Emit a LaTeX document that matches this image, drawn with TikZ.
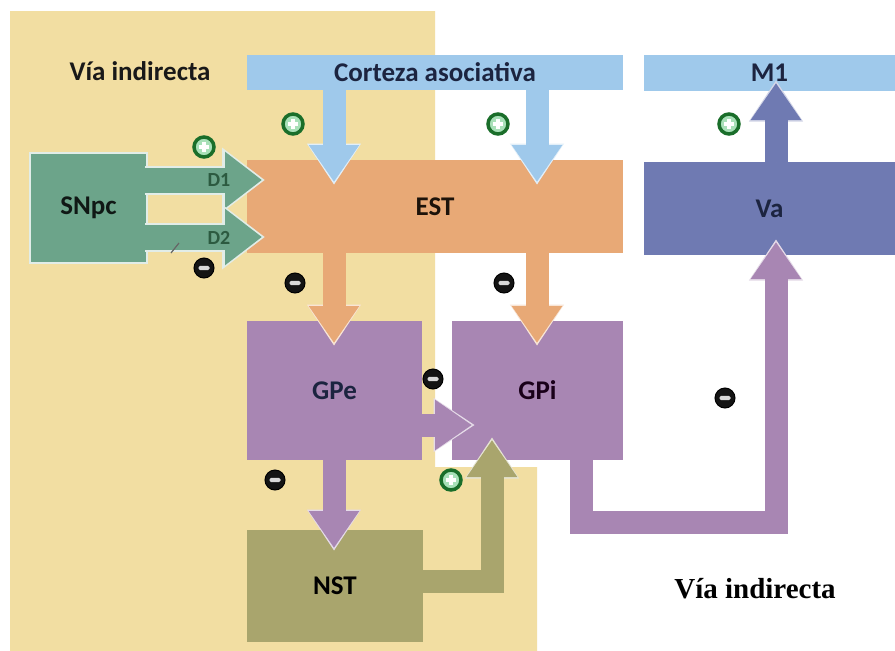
\documentclass[tikz,border=0pt]{standalone}
\usepackage{fontspec}
\setmainfont{Carlito}
\newfontfamily\timesfont{Liberation Serif}
\usetikzlibrary{arrows.meta,calc}
\definecolor{beige}{HTML}{F2DEA2}
\definecolor{lblue}{HTML}{9FC9EB}
\definecolor{estc}{HTML}{E8A976}
\definecolor{snc}{HTML}{6CA48A}
\definecolor{vac}{HTML}{6F7AB2}
\definecolor{gpc}{HTML}{A886B3}
\definecolor{nstc}{HTML}{A9A56D}
\definecolor{plusg}{HTML}{1A6E2A}
\definecolor{plusin}{HTML}{A8E0B8}
\definecolor{txtn}{HTML}{1C2440}
\definecolor{dgreen}{HTML}{2C5A40}
\tikzset{
  box/.style={rectangle, inner sep=0pt, outer sep=0pt, anchor=north west,
    font=\bfseries\fontsize{27pt}{30pt}\selectfont},
  barrow/.style={line width=23pt, draw=#1, line join=miter,
    -{Triangle[width=48pt,length=37pt]},
    preaction={draw=white!70!#1, line width=1pt, -{Triangle[width=54pt,length=41pt]}, shorten >=-2.5pt}},
  sarrow/.style={line width=25pt, draw=#1, line join=miter,
    -{Triangle[width=54pt,length=37pt]},
    preaction={draw=white!80!#1, line width=29pt, -{Triangle[width=62pt,length=43pt]}, shorten >=-3pt}},
  possign/.style={circle, inner sep=0pt, minimum size=20pt, fill=plusin, draw=plusg, line width=3.5pt,
    path picture={
      \fill[white] ([xshift=-1.8pt,yshift=-5pt]path picture bounding box.center) rectangle ([xshift=1.8pt,yshift=5pt]path picture bounding box.center);
      \fill[white] ([xshift=-5pt,yshift=-1.8pt]path picture bounding box.center) rectangle ([xshift=5pt,yshift=1.8pt]path picture bounding box.center);}},
  negsign/.style={circle, inner sep=0pt, minimum size=20pt, fill=black!92, draw=black, line width=1pt,
    path picture={
      \fill[white!85!black, rounded corners=1.5pt] ([xshift=-5.5pt,yshift=-2.2pt]path picture bounding box.center) rectangle ([xshift=5.5pt,yshift=2.2pt]path picture bounding box.center);}},
  dlab/.style={font=\bfseries\fontsize{20pt}{22pt}\selectfont, text=dgreen, inner sep=0pt},
}
\begin{document}
\begin{tikzpicture}[x=1pt,y=-1pt]
\useasboundingbox (0,0) rectangle (895,651);
\fill[white] (0,0) rectangle (895,651);
\fill[beige] (10,11) -- (435,11) -- (435,467) -- (537,467) -- (537,651) -- (10,651) -- cycle;

% boxes
\node[box, fill=lblue, minimum width=376pt, minimum height=35pt, text=txtn] (cort) at (247,55) {Corteza asociativa};
\node[box, fill=lblue, minimum width=251pt, minimum height=36pt, text=txtn] (m1) at (644,55) {M1};
\node[box, fill=estc, minimum width=376pt, minimum height=93pt, text=black!85!brown] (est) at (247,160) {EST};
\node[box, fill=vac, minimum width=251pt, minimum height=93pt, text=txtn] (va) at (644,162) {Va};
\node[box, fill=gpc, minimum width=175pt, minimum height=139pt, text=txtn] (gpe) at (247,321) {GPe};
\node[box, fill=gpc, minimum width=171pt, minimum height=139pt, text=black!80!violet] (gpi) at (452,321) {GPi};
\node[box, fill=nstc, minimum width=176pt, minimum height=112pt, text=black] (nst) at (247,530) {NST};
\node[box, fill=snc, draw=white!80!snc, line width=2pt, minimum width=117pt, minimum height=110pt, text=black!85!snc] (snpc) at (30,153) {SNpc};

% connectors
\draw[sarrow=snc] ($(snpc.north east)+(-2,27)$) -- ($(est.north west)+(15,20)$);
\draw[sarrow=snc] ($(snpc.north east)+(-2,84)$) -- ($(est.north west)+(15,77)$);
\draw[barrow=lblue] ($(cort.south west)+(87,0)$) -- ($(est.north west)+(87,22)$);
\draw[barrow=lblue] ($(cort.south west)+(290,0)$) -- ($(est.north west)+(290,22)$);
\draw[barrow=estc] ($(est.south west)+(87,0)$) -- ($(gpe.north west)+(87,22)$);
\draw[barrow=estc] ($(est.south west)+(290,0)$) -- ($(gpi.north west)+(85,22)$);
\draw[barrow=gpc] ($(gpe.south west)+(87,0)$) -- ($(nst.north west)+(87,18)$);
\draw[barrow=gpc] ($(gpe.south east)+(0,-35)$) -- ($(gpi.south west)+(20,-35)$);
\draw[barrow=nstc] ($(nst.north east)+(0,51)$) -| ($(gpi.south west)+(40,-20)$);
\coordinate (turn) at (700,522);
\draw[barrow=gpc] ($(gpi.south west)+(129,0)$) |- (turn) -| ($(va.south west)+(132,-13)$);
\draw[barrow=vac] ($(va.north west)+(132,0)$) -- ($(m1.south west)+(132,-8)$);

% labels
\node[dlab] (d1) at ($(snpc.north east)+(72,27)$) {D1};
\node[dlab] (d2) at ($(snpc.north east)+(72,85)$) {D2};
\draw[black!60, line width=1.2pt] (171,253) -- (179,243);

% signs
\node[possign] (pos1) at (293,124) {};
\node[possign] (pos2) at (204,147) {};
\node[possign] (pos3) at (498,124) {};
\node[possign] (pos4) at (729,124) {};
\node[possign] (pos5) at (451,480) {};
\node[negsign] (neg1) at (204,268) {};
\node[negsign] (neg2) at (295,283) {};
\node[negsign] (neg3) at (504,283) {};
\node[negsign] (neg4) at (433,379) {};
\node[negsign] (neg5) at (275,480) {};
\node[negsign] (neg6) at (725,398) {};

% titles
\node[font=\bfseries\fontsize{27pt}{30pt}\selectfont, text=black!90, inner sep=0pt] (t1) at (140,71) {Vía indirecta};
\node[font=\timesfont\bfseries\fontsize{29pt}{32pt}\selectfont, text=black, inner sep=0pt] (t2) at (755,589) {Vía indirecta};
\end{tikzpicture}
\end{document}
